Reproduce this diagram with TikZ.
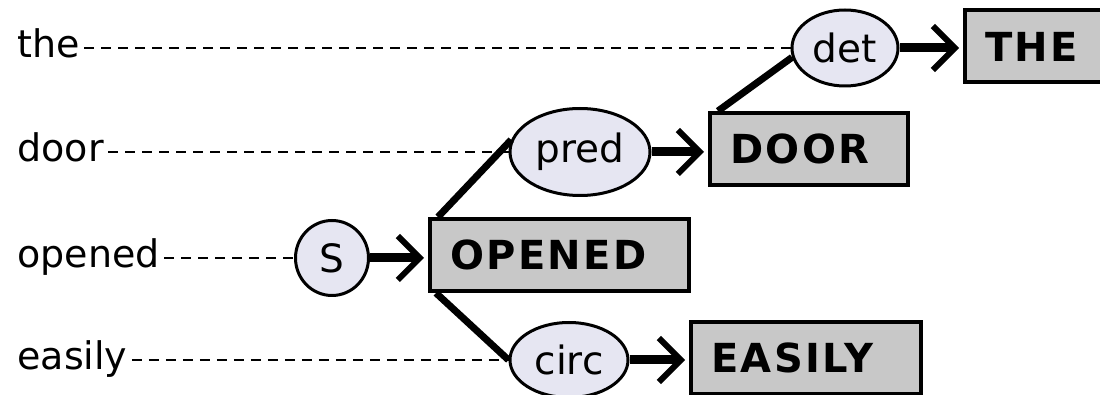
\documentclass[tikz,border=0pt]{standalone}
\usepackage{fontspec}
\setmainfont{DejaVu Sans}
\newfontfamily\boxfont[LetterSpace=6]{DejaVu Sans}
\usetikzlibrary{shapes.geometric, arrows.meta ,positioning}

\definecolor{rolefill}{RGB}{230,230,242}
\definecolor{boxgray}{RGB}{200,200,200}

\tikzset{
  word/.style={anchor=west, inner sep=2pt, font=\fontsize{19}{22}\selectfont, text height=1.1em, text depth=0.1em},
  role/.style={ellipse, draw, line width=1.5pt, fill=rolefill, inner sep=0pt, font=\fontsize{19.5}{22}\selectfont},
  concept/.style={anchor=west, draw, line width=2pt, fill=boxgray, inner xsep=10pt, inner ysep=0pt, minimum height=36pt, align=left, font=\boxfont\bfseries\fontsize{20}{24}\selectfont},
  link/.style={line width=3.5pt},
  trace/.style={line width=1.1pt, dash pattern=on 5pt off 3.5pt},
  feed/.style={line width=4.5pt, -{Straight Barb[length=11pt,width=22pt,line width=3pt]}, shorten >=2pt}
}

\begin{document}
\begin{tikzpicture}[x=0.5pt, y=-0.5pt]
        \clip (0,0) rectangle (1100,395);
        % 詞
        \node[word] (the) at (13,48) {the};
        \node[word] (door) at (13,152) {door};
        \node[word] (opened) at (13,258) {opened};
        \node[word] (easily) at (13,360) {easily};
        % 角色
        \node[role, minimum width=53pt, minimum height=38pt] (det) at (845,48) {det};
        \node[role, minimum width=70pt, minimum height=43.5pt] (pred) at (580,152) {pred};
        \node[role, minimum width=36.5pt, minimum height=37.5pt] (S) at (332,258) {S};
        \node[role, minimum width=59pt, minimum height=37.5pt] (circ) at (569,360) {circ};
        % 概念
        \node[concept, text width=60pt] (THE) at (963,46.5) {THE};
        \node[concept, text width=79pt] (DOOR) at (708,149) {DOOR};
        \node[concept, text width=109.5pt] (OPENED) at (428,255) {OPENED};
        \node[concept, text width=95pt] (EASILY) at (689,358) {EASILY};
        % 虛線
        \draw[trace] (the) -- (det);
        \draw[trace] (door) -- (pred);
        \draw[trace] (opened) -- (S);
        \draw[trace] (easily) -- (circ);
        % 連線
        \draw[link] ([xshift=5pt]OPENED.north west) -- (pred.170);
        \draw[link] ([xshift=4pt]OPENED.south west) -- (circ.west);
        \draw[link] ([xshift=5pt]DOOR.north west) -- (det.190);
        % 箭頭
        \draw[feed] (det) -- (det -| THE.west);
        \draw[feed] (pred) -- (pred -| DOOR.west);
        \draw[feed] (S) -- (S -| OPENED.west);
        \draw[feed] (circ) -- (circ -| EASILY.west);
\end{tikzpicture}
\end{document}
